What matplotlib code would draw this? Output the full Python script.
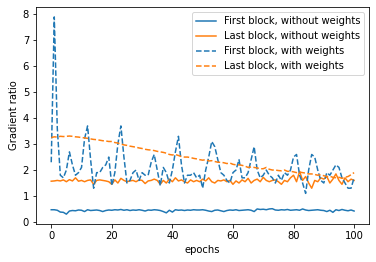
import numpy as np
import matplotlib
matplotlib.use("Agg")
import matplotlib.pyplot as plt

epochs = np.arange(101)

first_no_w = [0.47, 0.47, 0.45, 0.38, 0.37, 0.30, 0.42, 0.44, 0.43, 0.46,
              0.45, 0.40, 0.47, 0.44, 0.45, 0.46, 0.44, 0.40, 0.44, 0.46,
              0.45, 0.47, 0.46, 0.48, 0.45, 0.47, 0.44, 0.46, 0.45, 0.47,
              0.45, 0.42, 0.46, 0.45, 0.47, 0.46, 0.44, 0.40, 0.35, 0.45,
              0.38, 0.47, 0.45, 0.46, 0.44, 0.46, 0.45, 0.47, 0.46, 0.46,
              0.47, 0.45, 0.42, 0.40, 0.45, 0.46, 0.43, 0.40, 0.44, 0.46,
              0.45, 0.47, 0.44, 0.45, 0.46, 0.47, 0.45, 0.40, 0.50, 0.48,
              0.49, 0.47, 0.50, 0.51, 0.46, 0.45, 0.47, 0.46, 0.48, 0.45,
              0.46, 0.47, 0.45, 0.50, 0.46, 0.44, 0.45, 0.46, 0.47, 0.45,
              0.44, 0.40, 0.45, 0.37, 0.47, 0.44, 0.48, 0.45, 0.43, 0.46,
              0.42]

last_no_w = [1.57, 1.58, 1.60, 1.58, 1.62, 1.55, 1.63, 1.58, 1.70, 1.57,
             1.60, 1.55, 1.60, 1.62, 1.45, 1.60, 1.62, 1.60, 1.58, 1.55,
             1.45, 1.62, 1.50, 1.68, 1.60, 1.55, 1.58, 1.60, 1.55, 1.62,
             1.60, 1.48, 1.58, 1.60, 1.65, 1.60, 1.45, 1.60, 1.50, 1.65,
             1.55, 1.70, 1.58, 1.62, 1.55, 1.50, 1.62, 1.55, 1.60, 1.55,
             1.65, 1.58, 1.70, 1.55, 1.50, 1.60, 1.58, 1.62, 1.55, 1.60,
             1.45, 1.58, 1.50, 1.62, 1.55, 1.68, 1.50, 1.60, 1.65, 1.55,
             1.72, 1.60, 1.55, 1.60, 1.62, 1.55, 1.45, 1.60, 1.55, 1.70,
             1.80, 1.55, 1.95, 1.60, 1.75, 1.50, 1.30, 1.60, 1.55, 1.70,
             1.65, 1.75, 1.50, 1.65, 1.85, 1.60, 1.45, 1.70, 1.55, 1.65,
             1.60]

first_w = [2.3, 7.9, 3.6, 1.8, 1.7, 2.0, 2.7, 2.2, 1.8, 1.9,
           2.1, 3.2, 3.7, 2.4, 1.3, 1.9, 1.9, 2.1, 2.2, 2.5,
           1.4, 1.9, 3.0, 3.7, 2.5, 1.5, 1.6, 1.9, 2.0, 1.6,
           1.9, 1.8, 1.8, 2.3, 2.6, 2.0, 1.4, 2.1, 1.9, 1.5,
           2.0, 2.7, 3.3, 2.2, 1.5, 1.8, 1.8, 1.9, 1.7, 1.8,
           1.3, 2.0, 2.5, 3.1, 2.9, 2.4, 1.9, 1.8, 1.6, 1.5,
           1.9, 2.0, 2.4, 1.7, 1.7, 1.9, 2.4, 2.9, 2.0, 1.7,
           1.8, 2.0, 1.8, 1.7, 1.5, 1.8, 1.6, 1.9, 1.8, 2.0,
           2.5, 2.6, 1.8, 1.5, 1.1, 2.0, 2.6, 2.5, 2.0, 1.6,
           1.5, 1.9, 1.8, 2.0, 2.2, 2.1, 1.7, 1.5, 1.3, 1.3,
           1.7]

last_w = [3.25, 3.28, 3.27, 3.30, 3.29, 3.30, 3.31, 3.30, 3.28, 3.27,
          3.25, 3.24, 3.22, 3.20, 3.18, 3.17, 3.15, 3.13, 3.12, 3.10,
          3.10, 3.06, 3.04, 3.00, 2.97, 2.95, 2.92, 2.90, 2.88, 2.85,
          2.83, 2.80, 2.78, 2.77, 2.75, 2.72, 2.70, 2.68, 2.65, 2.60,
          2.58, 2.60, 2.56, 2.52, 2.50, 2.50, 2.48, 2.45, 2.43, 2.40,
          2.38, 2.40, 2.35, 2.36, 2.33, 2.30, 2.30, 2.28, 2.25, 2.27,
          2.22, 2.20, 2.20, 2.18, 2.15, 2.10, 2.12, 2.10, 2.08, 2.05,
          2.05, 2.10, 2.03, 2.00, 2.00, 1.98, 1.97, 2.00, 1.95, 1.95,
          1.93, 1.90, 1.92, 1.90, 1.88, 1.85, 1.85, 1.83, 1.80, 1.82,
          1.78, 1.75, 1.76, 1.72, 1.70, 1.72, 1.68, 1.72, 1.75, 1.82,
          1.90]

fig = plt.figure(figsize=(376 / 72, 262 / 72), dpi=72)
ax = fig.add_axes([0.096, 0.145, 0.886, 0.828])

ax.plot(epochs, first_no_w, color="C0", label="First block, without weights")
ax.plot(epochs, last_no_w, color="C1", label="Last block, without weights")
ax.plot(epochs, first_w, color="C0", linestyle="--", label="First block, with weights")
ax.plot(epochs, last_w, color="C1", linestyle="--", label="Last block, with weights")

ax.set_xlabel("epochs")
ax.set_ylabel("Gradient ratio")
ax.legend(loc="upper right")

fig.savefig("out.png", dpi=72)
